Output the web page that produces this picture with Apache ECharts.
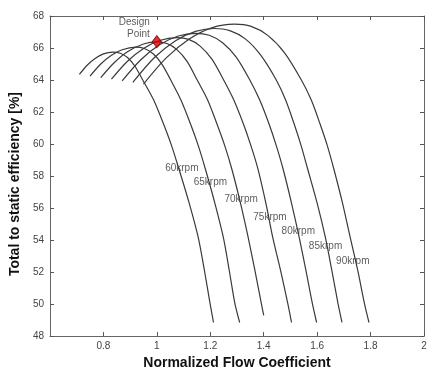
<!DOCTYPE html>
<html>
<head>
<meta charset="utf-8">
<script src="https://cdn.jsdelivr.net/npm/echarts@6/dist/echarts.min.js"></script>
<style>html,body{margin:0;padding:0;background:#fff}#c{width:433px;height:375px}</style>
</head>
<body>
<div id="c"></div>
<script>
const speeds = ['60krpm','65krpm','70krpm','75krpm','80krpm','85krpm','90krpm'];
const curve60 = [[0.71,64.35],[0.74,64.94],[0.77,65.36],[0.80,65.63],[0.835,65.74],[0.863,65.67],[0.891,65.39],[0.918,64.86],[0.946,64.03],[0.988,62.75],[1.025,61.25],[1.055,59.9],[1.082,58.47],[1.121,56.31],[1.155,54.15],[1.178,52.1],[1.199,50.04],[1.212,48.85]];
const curve65 = [[0.75,64.25],[0.79,65.0],[0.83,65.55],[0.87,65.89],[0.92,66.05],[0.953,65.97],[0.986,65.64],[1.018,65.01],[1.051,64.03],[1.09,62.75],[1.126,61.25],[1.155,59.9],[1.181,58.47],[1.217,56.31],[1.249,54.15],[1.271,52.1],[1.292,50.04],[1.31,48.85]];
const curve70 = [[0.79,64.15],[0.84,65.08],[0.89,65.77],[0.95,66.25],[1.0,66.38],[1.038,66.28],[1.075,65.9],[1.113,65.17],[1.15,64.03],[1.19,62.75],[1.225,61.25],[1.254,59.9],[1.28,58.47],[1.313,56.31],[1.342,54.15],[1.367,52.1],[1.391,50.04],[1.40,49.3]];
const curve75 = [[0.83,64.05],[0.89,65.17],[0.95,65.97],[1.01,66.47],[1.075,66.65],[1.119,66.54],[1.162,66.12],[1.206,65.3],[1.249,64.03],[1.288,62.75],[1.324,61.25],[1.352,59.9],[1.378,58.47],[1.408,56.31],[1.434,54.15],[1.463,52.1],[1.49,50.04],[1.504,48.85]];
const curve80 = [[0.87,63.95],[0.94,65.27],[1.01,66.2],[1.08,66.75],[1.145,66.92],[1.196,66.8],[1.246,66.33],[1.297,65.43],[1.347,64.03],[1.385,62.75],[1.42,61.25],[1.447,59.9],[1.472,58.47],[1.504,56.31],[1.533,54.15],[1.558,52.1],[1.582,50.04],[1.598,48.85]];
const curve85 = [[0.91,63.85],[0.99,65.39],[1.07,66.46],[1.145,67.04],[1.215,67.22],[1.273,67.09],[1.331,66.57],[1.388,65.57],[1.446,64.03],[1.482,62.75],[1.514,61.25],[1.54,59.9],[1.564,58.47],[1.6,56.31],[1.631,54.15],[1.655,52.1],[1.678,50.04],[1.693,48.85]];
const curve90 = [[0.95,63.75],[1.035,65.38],[1.12,66.55],[1.205,67.26],[1.29,67.49],[1.353,67.35],[1.415,66.79],[1.478,65.7],[1.54,64.03],[1.578,62.75],[1.611,61.25],[1.638,59.9],[1.662,58.47],[1.695,56.31],[1.724,54.15],[1.752,52.1],[1.777,50.04],[1.794,48.85]];
const curves = [curve60, curve65, curve70, curve75, curve80, curve85, curve90];
const labelPos = [[1.031,58.48],[1.138,57.61],[1.253,56.56],[1.361,55.45],[1.467,54.52],[1.569,53.60],[1.671,52.65]];
const designPoint = [1.0, 66.4];
const designLabel = 'Design\nPoint';
const xName = 'Normalized Flow Coefficient';
const yName = 'Total to static efficiency [%]';
const xRange = [0.6, 2.0, 0.2];
const yRange = [48, 68, 2];

const font = 'Liberation Sans, Arial, sans-serif';
const axisCommon = {
  axisLine: {show: true, lineStyle: {color: '#666', width: 1}},
  axisTick: {show: true, inside: true, length: 4, lineStyle: {color: '#555'}},
  splitLine: {show: false}
};
const series = curves.map((c, i) => ({
  type: 'line', data: c, smooth: 0.3, showSymbol: false, symbol: 'none',
  lineStyle: {color: '#3a3a3a', width: 1.2}, z: 2, silent: true
}));
series.push({
  type: 'scatter', symbolSize: 0, silent: true,
  data: labelPos.map((p, i) => ({value: p, name: speeds[i]})),
  label: {show: true, position: 'right', distance: 0, formatter: p => p.name,
    fontFamily: font, fontSize: 10, color: '#333'},
  z: 3
});
series.push({
  type: 'scatter', symbol: 'diamond', symbolSize: [9, 12], silent: true,
  data: [designPoint],
  itemStyle: {color: '#e30000', borderColor: '#7a0000', borderWidth: 1},
  label: {show: true, position: 'inside', align: 'right', verticalAlign: 'middle', offset: [-7, -13],
    formatter: designLabel, fontFamily: font, fontSize: 10, lineHeight: 12, color: '#333'},
  z: 4
});
const chart = echarts.init(document.getElementById('c'), null, {renderer: 'canvas'});
chart.setOption({
  animation: false,
  backgroundColor: '#fff',
  grid: {left: 47, right: 9, top: 16, bottom: 36, containLabel: false},
  xAxis: [
    Object.assign({type: 'value', min: xRange[0], max: xRange[1], interval: xRange[2], position: 'bottom',
      name: xName, nameLocation: 'middle', nameGap: 19,
      nameTextStyle: {fontFamily: font, fontSize: 14, fontWeight: 'bold', color: '#111'},
      axisLabel: {showMinLabel: false, fontFamily: font, fontSize: 10, color: '#444', margin: 5}}, axisCommon),
    Object.assign({type: 'value', min: xRange[0], max: xRange[1], interval: xRange[2], position: 'top',
      axisLabel: {show: false}}, axisCommon)
  ],
  yAxis: [
    Object.assign({type: 'value', min: yRange[0], max: yRange[1], interval: yRange[2], position: 'left',
      name: yName, nameLocation: 'middle', nameGap: 21, nameRotate: 90,
      nameTextStyle: {fontFamily: font, fontSize: 14, fontWeight: 'bold', color: '#111', padding: [0, 16, 0, 0]},
      axisLabel: {fontFamily: font, fontSize: 10, color: '#444', margin: 6}}, axisCommon),
    Object.assign({type: 'value', min: yRange[0], max: yRange[1], interval: yRange[2], position: 'right',
      axisLabel: {show: false}}, axisCommon)
  ],
  series: series
});
</script>
</body>
</html>
